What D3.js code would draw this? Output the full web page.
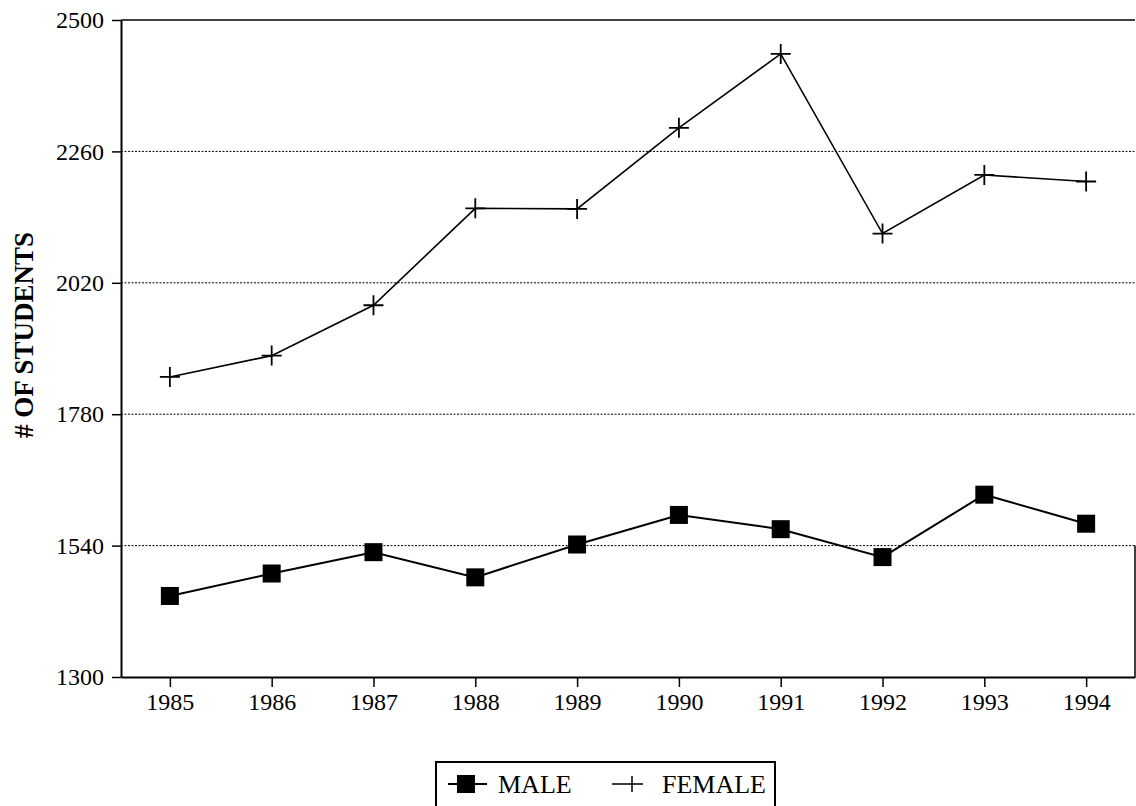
<!DOCTYPE html>
<html lang="en">
<head>
    <meta charset="UTF-8">
    <title># of Students by Gender, 1985-1994</title>
    <script src="https://d3js.org/d3.v7.min.js"></script>
    <style>
        body { margin: 0; background: #fff; font-family: "Liberation Serif", "Times New Roman", serif; }
        .grid line { stroke: #000; stroke-dasharray: 2,1.5; stroke-width: 1; }
    </style>
</head>
<body>
    <div id="chart"></div>
    <script>
        const years = [1985, 1986, 1987, 1988, 1989, 1990, 1991, 1992, 1993, 1994];
        const male = [1448, 1489, 1528, 1482, 1542, 1596, 1570, 1519, 1633, 1580];
        const female = [1848, 1887, 1979, 2156, 2155, 2303, 2438, 2110, 2217, 2205];
        const yTicks = [1300, 1540, 1780, 2020, 2260, 2500];

        const margin = { top: 20, right: 1, bottom: 129, left: 121 };
        const width = 1136 - margin.left - margin.right;
        const height = 806 - margin.top - margin.bottom;

        const svg = d3.select("#chart")
            .append("svg")
            .attr("width", 1136)
            .attr("height", 806);

        const g = svg.append("g")
            .attr("transform", `translate(${margin.left},${margin.top})`);

        const x = d3.scalePoint()
            .domain(years)
            .range([0, width])
            .padding(0.48);

        const y = d3.scaleLinear()
            .domain([1300, 2500])
            .range([height, 0]);

        // dotted gridlines
        g.append("g")
            .attr("class", "grid")
            .selectAll("line")
            .data(yTicks.filter(t => t > 1300 && t < 2500))
            .enter()
            .append("line")
            .attr("x1", 0)
            .attr("x2", width)
            .attr("y1", d => y(d))
            .attr("y2", d => y(d));

        // top and right frame
        g.append("line").attr("x1", 0).attr("x2", width).attr("y1", 0).attr("y2", 0)
            .attr("stroke", "#000").attr("stroke-width", 1.5);
        g.append("line").attr("x1", width).attr("x2", width).attr("y1", y(1540)).attr("y2", height)
            .attr("stroke", "#000").attr("stroke-width", 1.5);

        const yAxis = g.append("g")
            .call(d3.axisLeft(y).tickValues(yTicks).tickFormat(d3.format("d"))
                .tickSize(9).tickPadding(8).tickSizeOuter(0));
        const xAxis = g.append("g")
            .attr("transform", `translate(0,${height})`)
            .call(d3.axisBottom(x).tickSize(10).tickPadding(6).tickSizeOuter(0));
        [yAxis, xAxis].forEach(a => {
            a.attr("font-family", "Liberation Serif, serif").attr("font-size", 24);
            a.select(".domain").attr("stroke-width", 2);
            a.selectAll(".tick line").attr("stroke-width", 1.5);
            a.selectAll(".tick text").attr("fill", "#000");
        });

        const line = d3.line()
            .x((d, i) => x(years[i]))
            .y(d => y(d));

        g.append("path")
            .datum(male)
            .attr("fill", "none")
            .attr("stroke", "#000")
            .attr("stroke-width", 2)
            .attr("d", line);

        g.append("path")
            .datum(female)
            .attr("fill", "none")
            .attr("stroke", "#000")
            .attr("stroke-width", 1.6)
            .attr("d", line);

        const sq = 18;
        g.selectAll(".male-pt")
            .data(male)
            .enter()
            .append("rect")
            .attr("x", (d, i) => x(years[i]) - sq / 2)
            .attr("y", d => y(d) - sq / 2)
            .attr("width", sq)
            .attr("height", sq)
            .attr("fill", "#000");

        const plus = 10;
        g.selectAll(".female-pt")
            .data(female)
            .enter()
            .append("path")
            .attr("d", (d, i) => {
                const cx = x(years[i]), cy = y(d);
                return `M${cx - plus},${cy}H${cx + plus}M${cx},${cy - plus}V${cy + plus}`;
            })
            .attr("stroke", "#000")
            .attr("stroke-width", 1.8);

        // y axis title
        svg.append("text")
            .attr("transform", "translate(33,335) rotate(-90)")
            .attr("text-anchor", "middle")
            .style("font-size", "27px")
            .style("font-weight", "bold")
            .text("# OF STUDENTS");

        // legend
        const leg = svg.append("g").attr("transform", "translate(436,762)");
        leg.append("rect")
            .attr("x", 0).attr("y", 0).attr("width", 339).attr("height", 60)
            .attr("fill", "#fff").attr("stroke", "#000").attr("stroke-width", 2);
        leg.append("line").attr("x1", 12).attr("x2", 51).attr("y1", 22).attr("y2", 22)
            .attr("stroke", "#000").attr("stroke-width", 2);
        leg.append("rect").attr("x", 21).attr("y", 13).attr("width", 18).attr("height", 18).attr("fill", "#000");
        leg.append("text").attr("x", 62).attr("y", 31).style("font-size", "26px").text("MALE");
        leg.append("path")
            .attr("d", "M176,22H207M196,14V30")
            .attr("stroke", "#000").attr("stroke-width", 1.5);
        leg.append("text").attr("x", 226).attr("y", 31).style("font-size", "26px").text("FEMALE");
    </script>
</body>
</html>
